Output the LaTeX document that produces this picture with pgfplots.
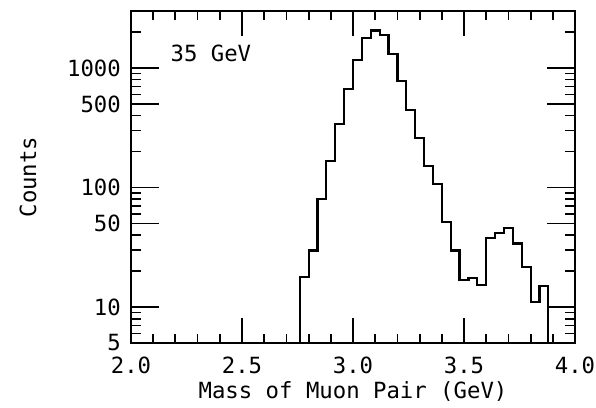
\documentclass[border=0pt]{standalone}
\usepackage{pgfplots}
\pgfplotsset{compat=1.18}
\usepackage{fontspec}
\setmainfont{DejaVu Sans Mono}
\begin{document}
\fontsize{22.3pt}{26pt}\selectfont
\begin{tikzpicture}
\useasboundingbox (-131pt,-64pt) rectangle (465pt,343pt);
\begin{axis}[
  at={(0pt,0pt)}, anchor=south west,
  scale only axis, width=444pt, height=332pt,
  ymode=log, xmin=2, xmax=4, ymin=5, ymax=3000,
  axis line style={line width=2pt},
  tick style={draw=none},
  xtick={2,2.5,3,3.5,4}, xticklabels={2.0,2.5,3.0,3.5,4.0},
  ytick={5,10,50,100,500,1000}, yticklabels={5,10,50,100,500,1000},
  minor xtick={}, minor ytick={},
  xticklabel style={inner sep=0pt, anchor=north, yshift=-14pt},
  yticklabel style={inner sep=0pt, anchor=east, xshift=-10pt},
  xlabel={Mass of Muon Pair (GeV)}, ylabel={Counts},
  every axis x label/.style={at={(rel axis cs:0.5,-0.147)}, anchor=center, inner sep=0pt},
  every axis y label/.style={at={(rel axis cs:-0.232,0.5)}, rotate=90, anchor=center, inner sep=0pt},
]
\addplot[const plot mark left, line width=2.2pt, black, mark=none, line join=miter] coordinates {
(2.72,1) (2.76,17.7) (2.80,29.7) (2.84,80.5) (2.88,167) (2.92,340) (2.96,664)
(3.00,1175) (3.04,1778) (3.08,2061) (3.12,1898) (3.16,1318) (3.20,779)
(3.24,444) (3.28,258) (3.32,152) (3.36,107) (3.40,51.5) (3.44,29.7)
(3.48,16.8) (3.52,17.6) (3.56,15.2) (3.60,37.9) (3.64,41.7) (3.68,45.9)
(3.72,34) (3.76,21.5) (3.80,11) (3.84,15) (3.88,1) (3.92,1)};
% tick marks (inside, on all four sides)
\pgfplotsinvokeforeach{2.5,3,3.5}{
  \draw[line width=1.8pt] (axis cs:#1,5) -- ++(0pt,25pt);
  \draw[line width=1.8pt] (axis cs:#1,3000) -- ++(0pt,-25pt);
}
\pgfplotsinvokeforeach{2.1,2.2,2.3,2.4,2.6,2.7,2.8,2.9,3.1,3.2,3.3,3.4,3.6,3.7,3.8,3.9}{
  \draw[line width=1.8pt] (axis cs:#1,5) -- ++(0pt,9pt);
  \draw[line width=1.8pt] (axis cs:#1,3000) -- ++(0pt,-9pt);
}
\pgfplotsinvokeforeach{10,50,100,500,1000}{
  \draw[line width=1.8pt] (axis cs:2,#1) -- ++(28pt,0pt);
  \draw[line width=1.8pt] (axis cs:4,#1) -- ++(-28pt,0pt);
}
\pgfplotsinvokeforeach{6,7,8,9,20,30,40,60,70,80,90,200,300,400,600,700,800,900,2000}{
  \draw[line width=1.8pt] (axis cs:2,#1) -- ++(10pt,0pt);
  \draw[line width=1.8pt] (axis cs:4,#1) -- ++(-10pt,0pt);
}
\node[anchor=north west, inner sep=0pt] at (rel axis cs:0.0887,0.898) {35 GeV};
\end{axis}
\end{tikzpicture}
\end{document}
